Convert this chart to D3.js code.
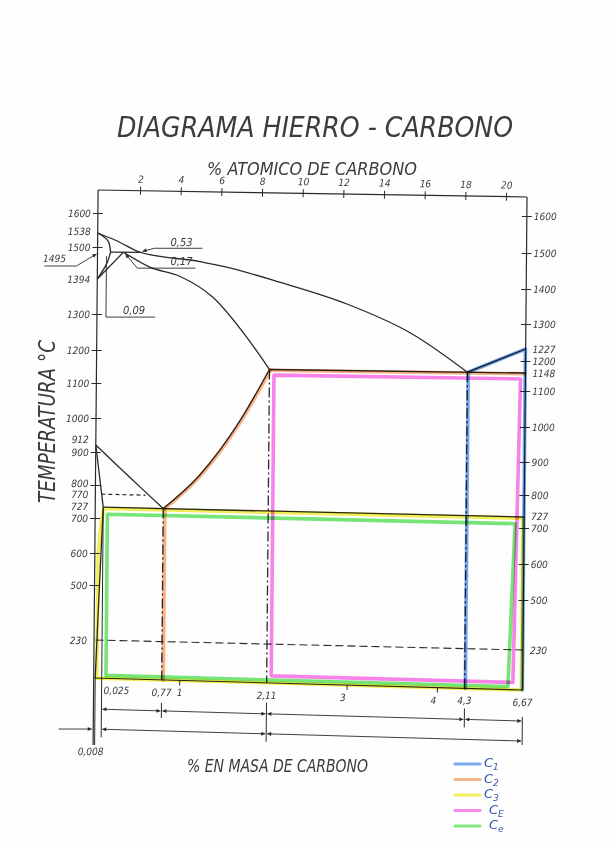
<!DOCTYPE html>
<html>
<head>
<meta charset="utf-8">
<script src="https://cdn.jsdelivr.net/npm/d3@7"></script>
<style>
  body { margin: 0; background: #fefefe; }
  svg { display: block; }
  text { font-family: 'DejaVu Sans Condensed', 'DejaVu Sans', sans-serif; font-style: italic; fill: #3c3c3c; }
  .tick-lbl { font-size: 10px; }
  .note { font-size: 11px; }
  .legend-lbl { font-family: 'DejaVu Sans', sans-serif; fill: #3556b0; font-size: 13px; }
  .hl { mix-blend-mode: multiply; fill: none; stroke-linejoin: round; stroke-linecap: round; }
</style>
</head>
<body>
<script>
// temperature ticks and labels (°C)
const leftTicks = [1600, 1500, 1300, 1200, 1100, 1000, 900, 800, 700, 600, 500];
const leftLabels = [1600, 1538, 1500, 1394, 1300, 1200, 1100, 1000, 912, 900, 800, 770, 727, 700, 600, 500, 230];
const rightTicks = [1600, 1500, 1400, 1300, 1200, 1100, 1000, 900, 800, 700, 600, 500];
const rightLabels = [1600, 1500, 1400, 1300, 1227, 1200, 1148, 1100, 1000, 900, 800, 727, 700, 600, 500, 230];

// % atomico (top) and % en masa (bottom)
const atomicTicks = [2, 4, 6, 8, 10, 12, 14, 16, 18, 20];
const massTicks = [1, 3, 4];
const massValues = [0.025, 0.77, 1, 2.11, 3, 4, 4.3, 6.67];
const massLabels = ['0,025', '0,77', '1', '2,11', '3', '4', '4,3', '6,67'];
const row1Stops = [0.025, 0.77, 2.11, 4.3, 6.67];
const row2Stops = [0.025, 2.11, 6.67];

// phase boundaries [%C, °C]
const liquidus = [[0, 1538], [0.12, 1519], [0.53, 1495], [1.21, 1464], [1.59, 1444], [2.22, 1400], [2.96, 1344], [3.69, 1263], [4.3, 1148]];
const solidusGamma = [[0.17, 1495], [0.62, 1442], [0.96, 1411], [1.38, 1353], [1.81, 1246], [2.11, 1148]];
const deltaSolidus = [[0, 1538], [0.056, 1517], [0.09, 1495]];
const deltaGamma = [[0.09, 1495], [0.042, 1452], [0, 1394]];
const gammaDelta = [[0, 1394], [0.17, 1495]];
const peritectic = [[0.09, 1495], [0.53, 1495]];
const a3Line = [[0, 912], [0.35, 825], [0.77, 727]];
const alphaLine = [[0, 912], [0.025, 727]];
const alphaSolvus = [[0.025, 727], [0.015, 400], [0.008, 0]];
const acmLine = [[0.77, 727], [1.23, 837], [1.73, 997], [2.11, 1148]];
const eutectic = [[2.11, 1148], [6.67, 1148]];
const cementiteLiq = [[4.3, 1148], [6.67, 1227]];
const eutectoid = [[0.025, 727], [6.67, 727]];
const curieLine = [[0.02, 770], [0.6, 770]];
const line230 = [[0.008, 230], [6.67, 230]];
const dropLines = [[0.77, 727], [2.11, 1148], [4.3, 1148]];

// coloured marks
const c1 = [[4.33, 0], [4.33, 1148], [6.66, 1227], [6.66, 0]];
const c2 = [[0.79, 0], [0.79, 727], [1.24, 835], [1.74, 995], [2.12, 1146], [6.66, 1146]];
const c3 = [[0.012, 0], [0.013, 600], [0.02, 690], [0.035, 724], [6.62, 724], [6.62, 0], [0.012, 0]];
const cE = [[2.16, 1132], [6.47, 1132], [6.27, 42], [2.16, 42], [2.16, 1132]];
const ce = [[0.08, 710], [6.3, 710], [6.07, 18], [0.08, 18], [0.08, 710]];
const legendSubs = ['1', '2', '3', 'E', 'e'];

const ink = '#2a2a2a';
const palette = ['#5c95ea', '#f4a46e', '#f0ec3a', '#f76ee6', '#5fe05f'];

const xMass = d3.scaleLinear()
    .domain([0, 0.008, 0.025, 0.09, 0.17, 0.53, 0.77, 2.11, 4.3, 6.67])
    .range([98, 99.5, 106, 111, 124, 141, 166, 271, 469, 527]);
const yLeft = d3.scaleLinear()
    .domain([0, 230, 500, 600, 700, 727, 770, 800, 900, 912, 1000, 1100, 1200, 1300, 1394, 1495, 1500, 1538, 1600])
    .range([678, 640, 585, 553, 518, 507, 494, 485, 452, 445, 418, 383, 350, 314, 279, 252, 247, 233, 213]);
const yRight = d3.scaleLinear()
    .domain([0, 230, 500, 600, 700, 727, 800, 900, 1000, 1100, 1148, 1200, 1227, 1300, 1400, 1500, 1600])
    .range([690, 650, 600, 564, 528, 517, 495, 462, 427, 391, 373, 361, 349, 324, 289, 253, 216]);
const xAtomic = d3.scaleLinear().domain([0, 20]).range([1.3, 408]);

// the drawing is a little skewed on the sheet: blend left and right temperature scales
function pt(d) {
    const u = xMass(d[0]);
    const f = (u - xMass(0)) / (xMass(6.67) - xMass(0));
    return [u, yLeft(d[1]) * (1 - f) + yRight(d[1]) * f];
}
const below = (c, off) => [xMass(c), pt([c, 0])[1] + off];

const curved = d3.line().x(d => pt(d)[0]).y(d => pt(d)[1]).curve(d3.curveCatmullRom);
const smooth = d3.line().x(d => pt(d)[0]).y(d => pt(d)[1]).curve(d3.curveMonotoneX);
const straight = d3.line().x(d => pt(d)[0]).y(d => pt(d)[1]);

const svg = d3.select('body').append('svg').attr('width', 616).attr('height', 848);
svg.append('rect').attr('width', 616).attr('height', 848).attr('fill', '#fefefe');

const defs = svg.append('defs');
defs.append('marker')
    .attr('id', 'arr').attr('viewBox', '0 0 10 10').attr('refX', 10).attr('refY', 5)
    .attr('markerUnits', 'userSpaceOnUse').attr('markerWidth', 8).attr('markerHeight', 4)
    .attr('orient', 'auto-start-reverse')
    .append('path').attr('d', 'M0,0L10,5L0,10z').attr('fill', ink);

// titles
svg.append('text').attr('x', 117).attr('y', 137).attr('font-size', 29)
    .attr('textLength', 396).attr('lengthAdjust', 'spacingAndGlyphs')
    .text('DIAGRAMA HIERRO - CARBONO');
svg.append('text').attr('x', 207).attr('y', 175).attr('font-size', 17)
    .attr('textLength', 210).attr('lengthAdjust', 'spacingAndGlyphs')
    .text('% ATOMICO DE CARBONO');
svg.append('text').attr('x', 187).attr('y', 772).attr('font-size', 17)
    .attr('textLength', 181).attr('lengthAdjust', 'spacingAndGlyphs')
    .text('% EN MASA DE CARBONO');
svg.append('text').attr('transform', 'translate(55,503) rotate(-90)').attr('font-size', 23)
    .attr('textLength', 163).attr('lengthAdjust', 'spacingAndGlyphs')
    .text('TEMPERATURA °C');

const g = svg.append('g').attr('transform', 'matrix(1,0,-0.009,1,1.8,0)');

// top axis, along the tilted upper edge
const tilt = Math.atan2(7, 429) * 180 / Math.PI;
const topAxis = g.append('g')
    .attr('transform', `translate(${xMass(0)},190) rotate(${tilt})`)
    .call(d3.axisTop(xAtomic).tickValues(atomicTicks).tickSize(4).tickPadding(4));
topAxis.select('.domain').remove();
topAxis.selectAll('.tick line').attr('y1', 4).attr('stroke', ink);
topAxis.selectAll('.tick text').attr('class', 'tick-lbl');
topAxis.append('line').attr('x2', Math.hypot(429, 7)).attr('stroke', ink).attr('stroke-width', 1.2);

// left axis
const leftAxis = g.append('g').attr('transform', `translate(${xMass(0)},0)`)
    .call(d3.axisLeft(yLeft).tickValues(leftTicks).tickSize(5).tickFormat(''));
leftAxis.select('.domain').remove();
leftAxis.selectAll('.tick line').attr('x1', 5).attr('stroke', ink);
g.append('line').attr('x1', xMass(0)).attr('x2', xMass(0))
    .attr('y1', 190).attr('y2', yLeft(0) + 67).attr('stroke', ink).attr('stroke-width', 1.2);

const leftNudge = { 1538: -2, 912: -6, 800: -2, 727: -1 };
g.selectAll('.lbl-l').data(leftLabels).join('text')
    .attr('class', 'tick-lbl')
    .attr('x', xMass(0) - 7)
    .attr('y', d => yLeft(d) + 4 + (leftNudge[d] || 0))
    .attr('text-anchor', 'end')
    .text(d => d);

// right axis
const rightAxis = g.append('g').attr('transform', `translate(${xMass(6.67)},0)`)
    .call(d3.axisRight(yRight).tickValues(rightTicks).tickSize(5).tickFormat(''));
rightAxis.select('.domain').remove();
rightAxis.selectAll('.tick line').attr('x1', -5).attr('stroke', ink);
g.append('line').attr('x1', xMass(6.67)).attr('x2', xMass(6.67))
    .attr('y1', 197).attr('y2', yRight(0)).attr('stroke', ink).attr('stroke-width', 1.2);
const rightNudge = { 727: -1 };
g.selectAll('.lbl-r').data(rightLabels).join('text')
    .attr('class', 'tick-lbl')
    .attr('x', xMass(6.67) + 7)
    .attr('y', d => yRight(d) + 4 + (rightNudge[d] || 0))
    .text(d => d);

// bottom edge
g.append('path').attr('d', straight([[0, 0], [6.67, 0]])).attr('stroke', ink).attr('stroke-width', 1.1);
g.selectAll('.mtick').data(massTicks).join('line')
    .attr('x1', d => below(d, 0)[0]).attr('x2', d => below(d, 0)[0])
    .attr('y1', d => below(d, 0)[1]).attr('y2', d => below(d, 5)[1])
    .attr('stroke', ink);
const labelShift = { 0.025: 2, 3: -4, 4: -4 };
g.selectAll('.mlbl').data(massValues).join('text')
    .attr('class', 'tick-lbl')
    .attr('x', d => below(d, 0)[0] + (labelShift[d] || 0))
    .attr('y', d => below(d, 16)[1])
    .attr('text-anchor', d => d === 0.025 ? 'start' : 'middle')
    .text((d, i) => massLabels[i]);
g.append('text').attr('class', 'tick-lbl')
    .attr('x', below(0.008, 0)[0] - 4).attr('y', below(0.008, 77)[1])
    .attr('text-anchor', 'middle').text('0,008');

// extension lines and dimension rows
const ext = [[0.008, 0, 67], [0.77, 23, 38], [2.11, 20, 59], [4.3, 20, 39], [6.67, 27, 55]];
ext.forEach(e => {
    g.append('line')
        .attr('x1', below(e[0], 0)[0]).attr('x2', below(e[0], 0)[0])
        .attr('y1', below(e[0], e[1])[1]).attr('y2', below(e[0], e[2])[1])
        .attr('stroke', ink).attr('stroke-width', 1);
});
g.append('line')
    .attr('x1', xMass(0.025)).attr('x2', xMass(0.025))
    .attr('y1', pt([0.025, 727])[1]).attr('y2', below(0.025, 59)[1])
    .attr('stroke', ink).attr('stroke-width', 1);

function dimRow(stops, off) {
    d3.pairs(stops).forEach(p => {
        const a = below(p[0], off), b = below(p[1], off);
        g.append('line')
            .attr('x1', a[0] + 1).attr('y1', a[1]).attr('x2', b[0] - 1).attr('y2', b[1])
            .attr('stroke', ink).attr('stroke-width', 0.9)
            .attr('marker-start', 'url(#arr)').attr('marker-end', 'url(#arr)');
    });
}
dimRow(row1Stops, 31);
dimRow(row2Stops, 51);
const r2 = below(0.008, 51);
g.append('line').attr('x1', r2[0] - 36).attr('y1', r2[1]).attr('x2', r2[0] - 3).attr('y2', r2[1])
    .attr('stroke', ink).attr('stroke-width', 0.9).attr('marker-end', 'url(#arr)');

// phase diagram lines
[liquidus, solidusGamma, acmLine].forEach(c => {
    g.append('path').attr('d', smooth(c)).attr('fill', 'none').attr('stroke', ink).attr('stroke-width', 1.3);
});
[deltaSolidus, deltaGamma, a3Line, alphaSolvus].forEach(c => {
    g.append('path').attr('d', curved(c)).attr('fill', 'none').attr('stroke', ink).attr('stroke-width', 1.3);
});
[gammaDelta, peritectic, alphaLine, eutectic, cementiteLiq, eutectoid].forEach(c => {
    g.append('path').attr('d', straight(c)).attr('fill', 'none').attr('stroke', ink).attr('stroke-width', 1.3);
});
g.append('path').attr('d', straight(curieLine)).attr('fill', 'none')
    .attr('stroke', ink).attr('stroke-width', 1.2).attr('stroke-dasharray', '4,3');
g.append('path').attr('d', straight(line230)).attr('fill', 'none')
    .attr('stroke', ink).attr('stroke-width', 1.1).attr('stroke-dasharray', '8,4');
dropLines.forEach(d => {
    g.append('path').attr('d', straight([d, [d[0], 0]])).attr('fill', 'none')
        .attr('stroke', ink).attr('stroke-width', 1.3).attr('stroke-dasharray', '10,3,2,3');
});

// pointer notes near the peritectic
const p53 = pt([0.53, 1495]), p17 = pt([0.17, 1495]), p09 = pt([0.09, 1495]), p0 = pt([0, 1495]);
const pointer = (pts, arrow) => g.append('path')
    .attr('d', d3.line()(pts)).attr('fill', 'none').attr('stroke', ink).attr('stroke-width', 0.9)
    .attr('marker-end', arrow ? 'url(#arr)' : null);
pointer([[p53[0] + 62, p53[1] - 4], [p53[0] + 14, p53[1] - 4], [p53[0] + 2, p53[1] - 1]], true);
pointer([[p17[0] + 72, p17[1] + 16], [p17[0] + 14, p17[1] + 16], [p17[0] + 2, p17[1] + 2]], true);
pointer([[p09[0] + 45, p09[1] + 65], [p09[0] - 4, p09[1] + 65], [p09[0] - 4, p09[1] + 4]], false);
pointer([[p0[0] - 53, p0[1] + 14], [p0[0] - 21, p0[1] + 14], [p0[0] - 1, p0[1] + 2]], true);
g.append('text').attr('class', 'note').attr('x', p53[0] + 41).attr('y', p53[1] - 6).attr('text-anchor', 'middle').text('0,53');
g.append('text').attr('class', 'note').attr('x', p17[0] + 58).attr('y', p17[1] + 13).attr('text-anchor', 'middle').text('0,17');
g.append('text').attr('class', 'note').attr('x', p09[0] + 24).attr('y', p09[1] + 62).attr('text-anchor', 'middle').text('0,09');
g.append('text').attr('class', 'tick-lbl').attr('x', p0[0] - 43).attr('y', p0[1] + 10).attr('text-anchor', 'middle').text('1495');

// highlighter marks
const hl = (d, colour) => g.append('path').attr('class', 'hl').attr('d', d)
    .attr('stroke', colour).attr('stroke-width', 3.6).attr('stroke-opacity', 0.85);
hl(straight(c1), palette[0]);
hl(straight(c2.slice(0, 2)), palette[1]);
hl(smooth(c2.slice(1, 5)), palette[1]);
hl(straight(c2.slice(4)), palette[1]);
hl(straight(c3), palette[2]);
hl(straight(cE), palette[3]);
hl(straight(ce), palette[4]);

// legend
const leg = svg.append('g');
legendSubs.forEach((s, i) => {
    const y = 764 + i * 15.5;
    leg.append('line').attr('class', 'hl')
        .attr('x1', 455).attr('x2', 480).attr('y1', y).attr('y2', y)
        .attr('stroke', palette[i]).attr('stroke-width', 3.2).attr('stroke-opacity', 0.8);
    const t = leg.append('text').attr('class', 'legend-lbl').attr('x', 484 + (i > 2 ? 5 : 0)).attr('y', y + 3).text('C');
    t.append('tspan').attr('font-size', 9).attr('dy', 3).text(s);
});
</script>
</body>
</html>
